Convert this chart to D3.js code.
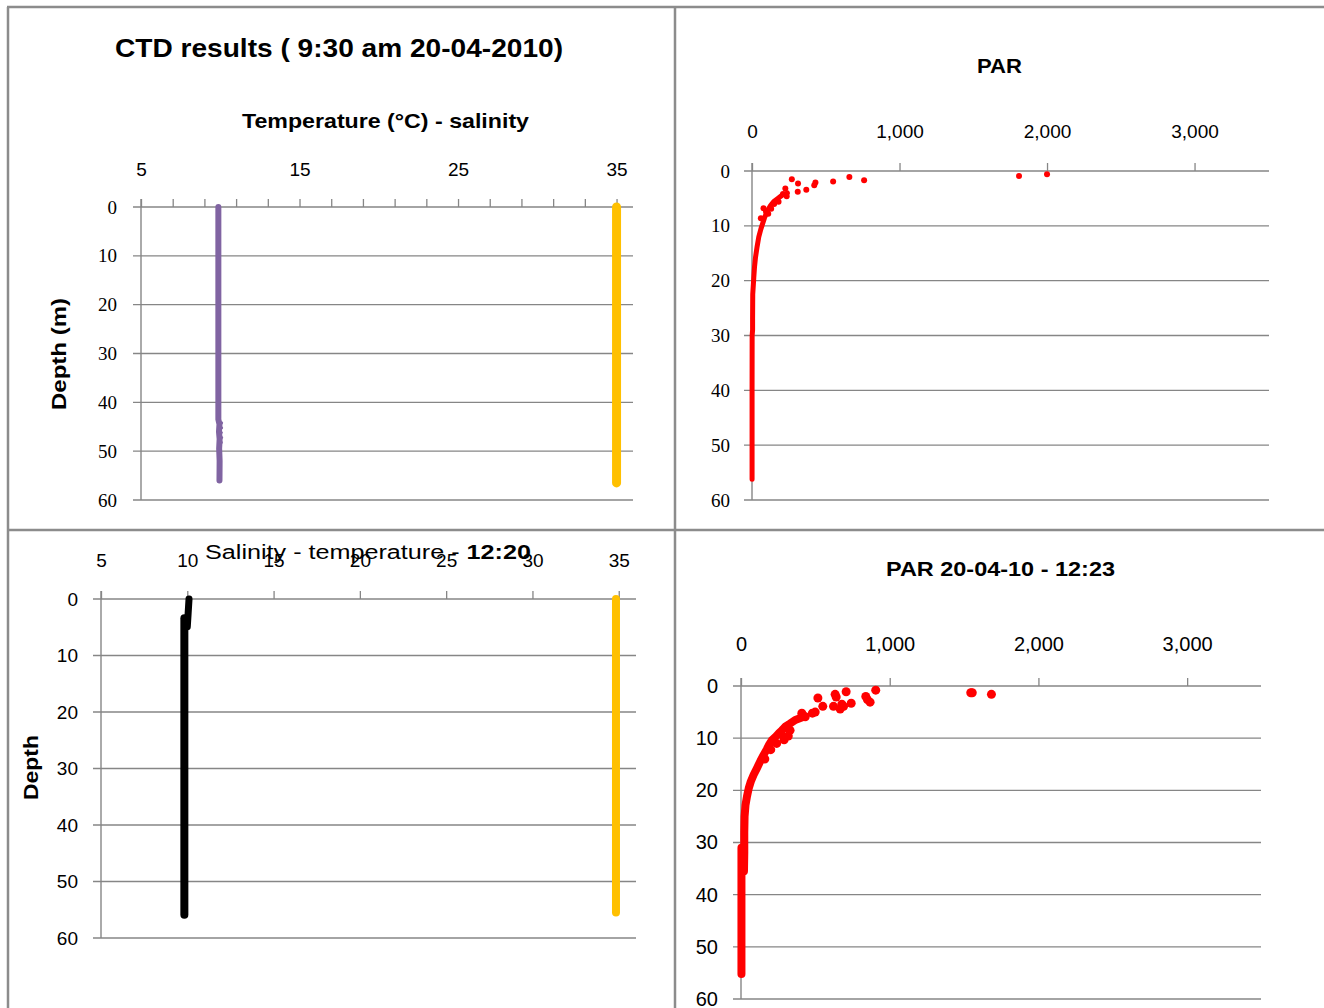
<!DOCTYPE html>
<html lang="en">
<head>
  <meta charset="utf-8">
  <title>CTD results</title>
  <script src="https://cdn.jsdelivr.net/npm/d3@7"></script>
  <style>
    body { margin: 0; background: #fff; }
    svg { display: block; }
    .grid { stroke: #868686; stroke-width: 1.4; }
    .border { stroke: #8c8c8c; stroke-width: 2.5; }
    .ttl { font-family: 'Liberation Sans', Arial, sans-serif; font-weight: bold; fill: #000; }
  </style>
</head>
<body>
<div id="chart"></div>
<script>
  // depth ticks shared by all four panels
  const depthTicks = [0, 10, 20, 30, 40, 50, 60];

  // top left: temperature / salinity 9:30 (value, depth)
  const tempTicksTL = d3.range(5, 36, 2);
  const tempLabelsTL = [5, 15, 25, 35];
  const temperature0930 = [[9.88, 0], [9.88, 20], [9.88, 43.5], [9.95, 44.5], [9.92, 46], [9.96, 47.5], [9.93, 49.5], [9.96, 52], [9.95, 56]];
  const temperature0930Ragged = [[10.08, 44.2], [10.08, 45.2], [10.06, 46.2], [10.08, 47.2], [10.06, 48.2]];
  const salinity0930 = [[35.0, 0], [35.0, 28], [35.0, 56.5]];

  // top right: PAR 9:30
  const parTicks = [0, 1000, 2000, 3000];
  const parProfile0930 = [[240, 4.0], [205, 4.4], [175, 5.0], [150, 5.5], [128, 6.2], [110, 7.0], [96, 7.8], [84, 8.6], [72, 9.6], [60, 10.6], [46, 12.0], [34, 13.9], [24, 15.7], [17, 17.5], [12, 19.5], [8, 21.2], [5, 22.5], [4, 27], [4, 29], [1, 30], [0.5, 40], [0.5, 56.2]];
  const parPoints0930 = [[2000, 0.6], [1810, 0.9], [760, 1.7], [660, 1.1], [550, 1.9], [430, 2.1], [422, 2.6], [368, 3.4], [312, 2.3], [310, 3.8], [270, 1.5], [226, 3.2], [235, 4.6], [210, 4.2], [180, 5.6], [130, 6.9], [78, 6.8], [95, 7.4], [60, 8.6], [150, 6.0], [110, 7.8]];

  // bottom left: salinity / temperature 12:20
  const tempTicksBL = [5, 10, 15, 20, 25, 30, 35];
  const temperature1220Top = [[10.1, 0], [10.05, 2.5], [10.0, 4.9]];
  const temperature1220 = [[9.83, 3.4], [9.83, 20], [9.83, 40], [9.83, 55.9]];
  const salinity1220 = [[34.84, 0], [34.84, 28], [34.84, 55.5]];

  // bottom right: PAR 12:23
  const parProfile1223 = [[430, 5.8], [365, 6.5], [330, 7.2], [298, 7.8], [275, 8.5], [253, 9.1], [230, 9.8], [208, 10.4], [190, 11.2], [174, 12.1], [152, 13.2], [130, 14.4], [108, 15.7], [85, 17.0], [66, 18.3], [52, 19.6], [40, 21.2], [30, 22.9], [24, 25], [22, 28], [22, 32], [20, 35.5]];
  const parProfile1223Deep = [[3, 31], [3, 45], [3, 55.2]];
  const parPoints1223 = [[906, 0.8], [707, 1.1], [633, 1.6], [640, 2.1], [517, 2.3], [550, 3.9], [622, 3.9], [667, 4.4], [678, 3.5], [690, 3.9], [741, 3.3], [839, 2.0], [868, 3.1], [850, 2.6], [1545, 1.3], [1555, 1.3], [1684, 1.6], [499, 5.0], [480, 5.2], [432, 5.9], [409, 5.2], [330, 8.5], [318, 9.6], [290, 10.3], [270, 9.2], [300, 8.0], [240, 11.0], [200, 12.2], [160, 14.0]];

  const svg = d3.select("#chart").append("svg")
    .attr("width", 1324).attr("height", 1008);

  function panel(o) {
    const g = svg.append("g");
    const x = d3.scaleLinear().domain(o.xDomain).range(o.xRange);
    const y = d3.scaleLinear().domain([0, 60]).range(o.yRange);

    // gridlines, running a bit left of the axis like the tick marks
    g.selectAll("line.grid").data(depthTicks).enter().append("line")
      .attr("class", "grid")
      .attr("x1", o.xRange[0] - 8).attr("x2", o.gridEnd)
      .attr("y1", d => y(d)).attr("y2", d => y(d));

    g.append("line").attr("class", "grid")
      .attr("x1", o.xRange[0]).attr("x2", o.xRange[0])
      .attr("y1", o.yRange[0] - 8).attr("y2", o.yRange[1]);

    const xa = g.append("g")
      .attr("transform", `translate(0,${o.yRange[0]})`)
      .call(d3.axisTop(x).tickValues(o.xTicks).tickSize(8).tickPadding(o.xPad)
        .tickFormat(d => o.xLabels.includes(d) ? o.fmt(d) : ""));
    xa.select(".domain").remove();
    xa.selectAll(".tick line").attr("stroke", "#868686").attr("stroke-width", 1.3);
    xa.selectAll("text").attr("font-family", "'Liberation Sans', Arial, sans-serif")
      .attr("font-size", o.fs).attr("fill", "#000");

    const ya = g.append("g")
      .attr("transform", `translate(${o.xRange[0]},0)`)
      .call(d3.axisLeft(y).tickValues(depthTicks).tickSize(0).tickPadding(o.yPad));
    ya.select(".domain").remove();
    ya.selectAll("text").attr("font-family", o.yFont)
      .attr("font-size", o.fs).attr("fill", "#000").attr("font-weight", o.yWeight || "normal");

    const line = d3.line().x(d => x(d[0])).y(d => y(d[1]));
    o.lines.forEach(s => {
      g.append("path").datum(s.data)
        .attr("d", line).attr("fill", "none")
        .attr("stroke", s.color).attr("stroke-width", s.w)
        .attr("stroke-linecap", "round").attr("stroke-linejoin", "round");
    });
    if (o.points) {
      g.selectAll("circle").data(o.points).enter().append("circle")
        .attr("cx", d => x(d[0])).attr("cy", d => y(d[1]))
        .attr("r", o.r).attr("fill", o.pointColor || "#ff0000");
    }
  }

  const comma = d3.format(",");

  panel({
    xDomain: [5, 36], xRange: [141, 632.4], yRange: [207, 500], gridEnd: 633,
    xTicks: tempTicksTL, xLabels: tempLabelsTL, fmt: d => d, xPad: 23, yPad: 24, fs: 19,
    yFont: "'Liberation Serif', 'Times New Roman', serif",
    lines: [
      { data: temperature0930, color: "#8064a2", w: 6 },
      { data: salinity0930, color: "#ffc000", w: 9 }
    ],
    points: temperature0930Ragged, r: 1.6, pointColor: "#8064a2"
  });

  panel({
    xDomain: [0, 3500], xRange: [752, 1268.3], yRange: [171, 500], gridEnd: 1269,
    xTicks: parTicks, xLabels: parTicks, fmt: comma, xPad: 25, yPad: 22, fs: 19,
    yFont: "'Liberation Serif', 'Times New Roman', serif",
    lines: [{ data: parProfile0930, color: "#ff0000", w: 5 }],
    points: parPoints0930, r: 3
  });

  panel({
    xDomain: [5, 36], xRange: [101, 636], yRange: [599, 938], gridEnd: 636,
    xTicks: tempTicksBL, xLabels: tempTicksBL, fmt: d => d, xPad: 24, yPad: 23, fs: 19,
    yFont: "'Liberation Sans', Arial, sans-serif",
    lines: [
      { data: temperature1220, color: "#000", w: 8 },
      { data: temperature1220Top, color: "#000", w: 7 },
      { data: salinity1220, color: "#ffc000", w: 8 }
    ]
  });

  panel({
    xDomain: [0, 3500], xRange: [741, 1261.5], yRange: [686, 999], gridEnd: 1261,
    xTicks: parTicks, xLabels: parTicks, fmt: comma, xPad: 27, yPad: 23, fs: 20,
    yFont: "'Liberation Sans', Arial, sans-serif",
    lines: [
      { data: parProfile1223, color: "#ff0000", w: 8 },
      { data: parProfile1223Deep, color: "#ff0000", w: 8 }
    ],
    points: parPoints1223, r: 4.5
  });

  // titles
  const titles = [
    { t: "CTD results ( 9:30 am 20-04-2010)", x: 115, y: 57, w: 448, fs: 25 },
    { t: "Temperature (°C) - salinity", x: 242, y: 128, w: 287, fs: 21 },
    { t: "PAR", x: 977, y: 73, w: 45, fs: 20 },
    { t: "PAR 20-04-10 - 12:23", x: 886, y: 576, w: 229, fs: 20 }
  ];
  titles.forEach(d => {
    svg.append("text").attr("class", "ttl")
      .attr("x", d.x).attr("y", d.y).attr("font-size", d.fs)
      .attr("textLength", d.w).attr("lengthAdjust", "spacingAndGlyphs")
      .text(d.t);
  });

  const st = svg.append("text").attr("class", "ttl")
    .attr("x", 205).attr("y", 559).attr("font-size", 20)
    .attr("textLength", 326).attr("lengthAdjust", "spacingAndGlyphs");
  st.append("tspan").attr("font-weight", "normal").text("Salinity - temperature - ");
  st.append("tspan").text("12:20");

  svg.append("text").attr("class", "ttl").attr("font-size", 20)
    .attr("transform", "translate(66,410) rotate(-90)")
    .attr("textLength", 112).attr("lengthAdjust", "spacingAndGlyphs")
    .text("Depth (m)");
  svg.append("text").attr("class", "ttl").attr("font-size", 20)
    .attr("transform", "translate(38,800) rotate(-90)")
    .attr("textLength", 65).attr("lengthAdjust", "spacingAndGlyphs")
    .text("Depth");

  // panel borders
  [[7, 7, 1324, 7], [8, 7, 8, 1008], [675, 7, 675, 1008], [8, 530, 1324, 530]].forEach(b => {
    svg.append("line").attr("class", "border")
      .attr("x1", b[0]).attr("y1", b[1]).attr("x2", b[2]).attr("y2", b[3]);
  });
</script>
</body>
</html>
